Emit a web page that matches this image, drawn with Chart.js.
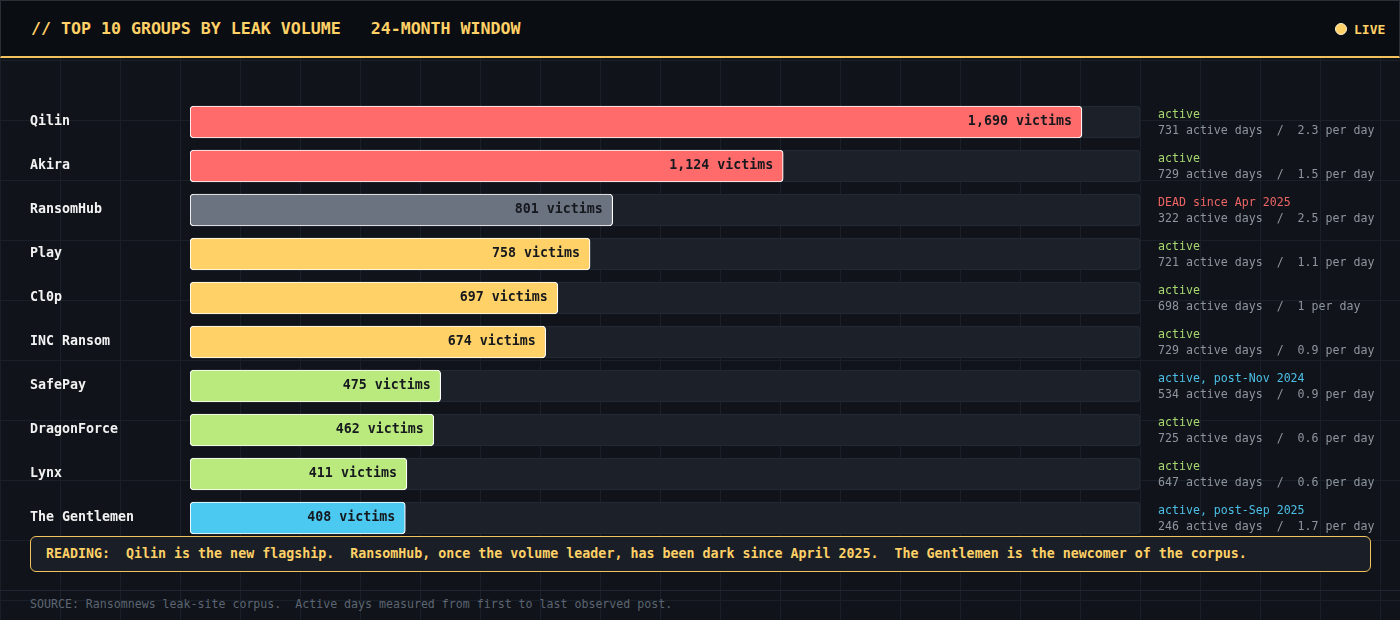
<!DOCTYPE html>
<html>
<head>
<meta charset="utf-8">
<script src="https://cdn.jsdelivr.net/npm/chart.js@4.4.0/dist/chart.umd.min.js"></script>
<style>
  html, body {
    margin: 0;
    padding: 0;
    width: 1400px;
    height: 620px;
    overflow: hidden;
    font-family: "DejaVu Sans Mono", monospace;
  }
  body {
    background-color: #10141a;
    background-image:
      linear-gradient(#19202a 1px, transparent 1px),
      linear-gradient(90deg, #19202a 1px, transparent 1px);
    background-size: 60px 60px;
    position: relative;
  }
  .header {
    position: absolute;
    left: 0; top: 0;
    width: 1398px;
    height: 55px;
    background: #0a0d11;
    border: 1px solid #2a2f37;
    border-bottom: 2px solid #f2c25c;
  }
  .title {
    position: absolute;
    left: 30px; top: 18px;
    color: #ffd166;
    font-weight: bold;
    font-size: 16.6px;
    white-space: pre;
  }
  .dot {
    position: absolute;
    left: 1334px; top: 22px;
    width: 10px; height: 10px;
    border-radius: 50%;
    background: #ffd166;
    border: 1px solid #fff2d0;
  }
  .live {
    position: absolute;
    left: 1353px; top: 21px;
    color: #ffd166;
    font-weight: bold;
    font-size: 13px;
  }
  #chartWrap {
    position: absolute;
    left: 0; top: 60px;
    width: 1400px; height: 480px;
  }
  .reading {
    position: absolute;
    left: 30px; top: 536px;
    width: 1341px; height: 36px;
    box-sizing: border-box;
    border: 1px solid #f2c25c;
    border-radius: 6px;
    background: #1a1f27;
    color: #ffd166;
    font-weight: bold;
    font-size: 13.3px;
    line-height: 34px;
    padding-left: 15px;
    white-space: pre;
  }
  .footer {
    position: absolute;
    left: 0; top: 590px;
    width: 1400px; height: 30px;
    border-top: 1px solid #1f2631;
  }
  .footer span {
    position: absolute;
    left: 30px; top: 6px;
    color: #5d6572;
    font-size: 11.6px;
    white-space: pre;
  }
</style>
</head>
<body>
<div class="header">
  <div class="title">// TOP 10 GROUPS BY LEAK VOLUME   24-MONTH WINDOW</div>
  <div class="dot"></div>
  <div class="live">LIVE</div>
</div>
<div id="chartWrap"><canvas id="leakChart" width="1400" height="480"></canvas></div>
<div class="reading">READING:  Qilin is the new flagship.  RansomHub, once the volume leader, has been dark since April 2025.  The Gentlemen is the newcomer of the corpus.</div>
<div class="footer"><span>SOURCE: Ransomnews leak-site corpus.  Active days measured from first to last observed post.</span></div>

<script>
// data
const groups = ["Qilin", "Akira", "RansomHub", "Play", "Cl0p", "INC Ransom", "SafePay", "DragonForce", "Lynx", "The Gentlemen"];
const victims = [1690, 1124, 801, 758, 697, 674, 475, 462, 411, 408];
const statuses = ["active", "active", "DEAD since Apr 2025", "active", "active", "active", "active, post-Nov 2024", "active", "active", "active, post-Sep 2025"];
const statusKinds = ["active", "active", "dead", "active", "active", "active", "new", "active", "active", "new"];
const activeDays = [731, 729, 322, 721, 698, 729, 534, 725, 647, 246];
const perDay = ["2.3", "1.5", "2.5", "1.1", "1", "0.9", "0.9", "0.6", "0.6", "1.7"];
const tiers = ["hot", "hot", "dead", "warm", "warm", "warm", "mild", "mild", "mild", "fresh"];
const axisMax = 1800;

const tierColors = { hot: "#ff6b6b", dead: "#6b7280", warm: "#ffd166", mild: "#bae97e", fresh: "#4cc9f0" };
const statusColors = { active: "#a8d870", dead: "#ef6464", new: "#4cbfe6" };
const MONO = '"DejaVu Sans Mono", monospace';

const sidePlugin = {
  id: "sideText",
  afterDatasetsDraw(chart) {
    const ctx = chart.ctx;
    const bars = chart.getDatasetMeta(1).data;
    const area = chart.chartArea;
    ctx.save();
    bars.forEach((bar, i) => {
      // value label inside bar
      ctx.font = "bold 13.3px " + MONO;
      ctx.fillStyle = "#15181d";
      ctx.textAlign = "right";
      ctx.textBaseline = "middle";
      ctx.fillText(victims[i].toLocaleString("en-US") + " victims", bar.x - 10, bar.y);

      // status + activity on the right
      ctx.textAlign = "left";
      ctx.font = "11.6px " + MONO;
      ctx.fillStyle = statusColors[statusKinds[i]];
      ctx.fillText(statuses[i], area.right + 18, bar.y - 7);
      ctx.fillStyle = "#8f959d";
      ctx.fillText(activeDays[i] + " active days  /  " + perDay[i] + " per day", area.right + 18, bar.y + 9);
    });
    ctx.restore();
  }
};

new Chart(document.getElementById("leakChart"), {
  type: "bar",
  data: {
    labels: groups,
    datasets: [
      {
        label: "track",
        data: groups.map(() => axisMax),
        backgroundColor: "#1c2129",
        borderColor: "#262d37",
        borderWidth: 1,
        borderRadius: 4,
        borderSkipped: false,
        barThickness: 32,
        grouped: false,
        order: 2
      },
      {
        label: "victims",
        data: victims,
        backgroundColor: tiers.map((t) => tierColors[t]),
        borderColor: "#ffffff",
        borderWidth: 1.2,
        borderRadius: 4,
        borderSkipped: false,
        barThickness: 32,
        grouped: false,
        order: 1
      }
    ]
  },
  options: {
    indexAxis: "y",
    responsive: false,
    animation: false,
    layout: { padding: { top: 40, bottom: 0, left: 30, right: 260 } },
    plugins: { legend: { display: false }, tooltip: { enabled: false } },
    scales: {
      x: { display: false, min: 0, max: axisMax },
      y: {
        grid: { display: false },
        border: { display: false },
        afterFit: (scale) => {
          scale.width = 160;
          scale.paddingTop = 0;
          scale.paddingBottom = 0;
        },
        ticks: {
          crossAlign: "far",
          padding: 0,
          color: "#f2f2f2",
          font: { family: MONO, size: 13.3, weight: "bold" }
        }
      }
    }
  },
  plugins: [sidePlugin]
});
</script>
</body>
</html>
